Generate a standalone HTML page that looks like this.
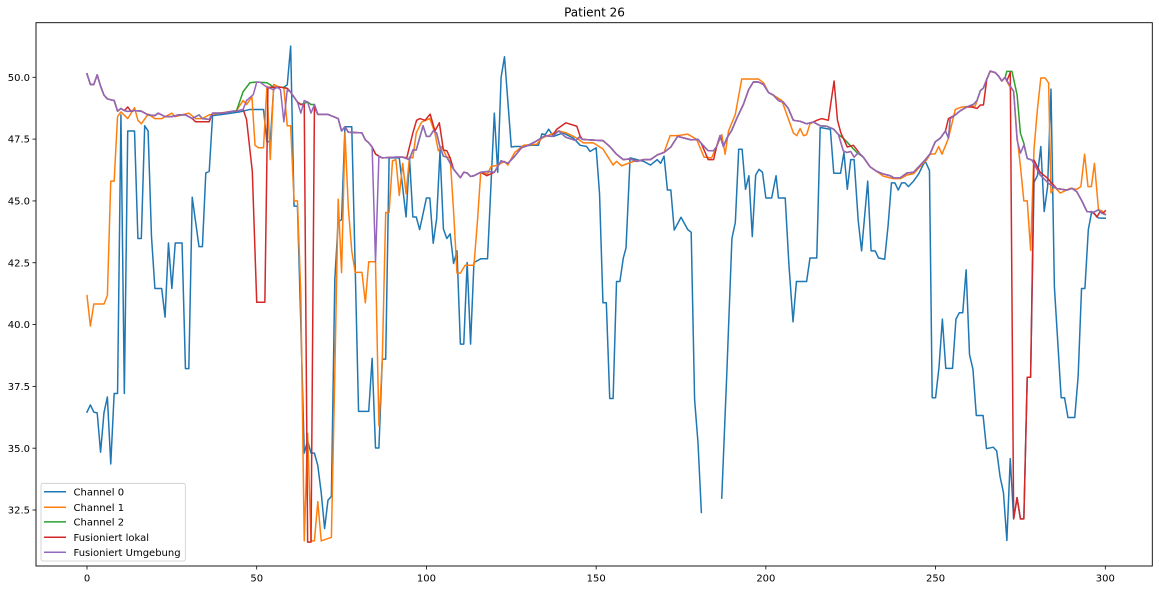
<!DOCTYPE html>
<html><head><meta charset="utf-8"><style>
html,body{margin:0;padding:0;background:#fff;}
svg{display:block;font-family:"DejaVu Sans","Liberation Sans",sans-serif;}
</style></head><body>
<svg id="chart" width="1159" height="590" viewBox="0 0 1159 590" xmlns="http://www.w3.org/2000/svg">
<defs><clipPath id="plotclip"><rect x="36" y="22.7" width="1116.3" height="543.3"/></clipPath></defs>
<rect x="0" y="0" width="1159" height="590" fill="#fff"/>
<text x="594.5" y="16.5" font-size="12" text-anchor="middle" fill="#000">Patient 26</text>
<g id="xaxis"></g>
<g id="yaxis"></g>
<g id="series" clip-path="url(#plotclip)"></g>
<rect x="36" y="22.7" width="1116.3" height="543.3" fill="none" stroke="#000" stroke-width="0.9"/>
<g id="legend"></g>
</svg>
<script>
const xTicks = [0, 50, 100, 150, 200, 250, 300];
const yTicks = [32.5, 35.0, 37.5, 40.0, 42.5, 45.0, 47.5, 50.0];
const seriesNames = ["Channel 0", "Channel 1", "Channel 2", "Fusioniert lokal", "Fusioniert Umgebung"];
const seriesColors = ["#1f77b4", "#ff7f0e", "#2ca02c", "#d62728", "#9467bd"];

const channel0 = [[0,36.46],[1,36.75],[2,36.46],[3,36.43],[4,34.84],[5,36.43],[6,37.07],[7,34.36],[8,37.21],[9,37.21],[10,48.48],[11,37.21],[12,47.83],[14,47.83],[15,43.48],[16,43.48],[17,48.04],[18,47.83],[19,43.56],[20,41.46],[22,41.46],[23,40.3],[24,43.3],[25,41.46],[26,43.3],[28,43.3],[29,38.22],[30,38.22],[31,45.15],[33,43.15],[34,43.15],[35,46.13],[36,46.19],[37,48.45],[40,48.5],[45,48.6],[48,48.7],[52,48.7],[53,47.4],[54,47.4],[55,49.6],[58,49.6],[59,49.7],[60,51.26],[61,44.79],[62,44.79],[63,40.0],[64,34.8],[65,35.3],[66,34.8],[67,34.8],[68,34.29],[69,33.2],[70,31.75],[71,32.9],[72,33.05],[73,41.8],[74,44.16],[75,44.24],[76,48.0],[78,48.0],[79,42.4],[80,36.49],[83,36.49],[84,38.63],[85,35.01],[86,35.01],[87,38.6],[88,38.6],[89,46.74],[92,46.74],[94,44.35],[95,46.77],[96,44.35],[97,44.35],[98,43.84],[100,45.12],[101,45.12],[102,43.29],[103,44.28],[104,47.03],[105,43.87],[106,43.48],[107,43.67],[108,42.47],[109,42.98],[110,39.21],[111,39.21],[112,42.51],[113,39.21],[114,42.51],[116,42.66],[118,42.66],[120,48.55],[121,46.16],[122,50.0],[123,50.83],[125,47.18],[126,47.2],[128.6,47.2],[130.5,47.25],[133,47.25],[134,47.71],[135,47.68],[136,47.9],[137.4,47.61],[140.3,47.75],[143.3,47.54],[145.3,47.25],[147.2,47.2],[148.2,47.0],[150,47.15],[151,45.29],[152,40.88],[153,40.88],[154,37.01],[155,37.01],[156,41.74],[157,41.74],[158,42.69],[158.8,43.1],[160,46.74],[162,46.67],[164,46.6],[166,46.45],[168,46.67],[169,46.52],[170,46.81],[171,45.44],[172,45.44],[173,43.82],[175,44.34],[177,43.84],[178,43.73],[179,36.97],[180,35.23],[181,32.4],[184,null],[187,32.98],[188.5,38.05],[190,43.48],[191,44.13],[192,47.09],[193,47.09],[194,45.47],[195,46.02],[196,43.56],[197,46.05],[198,46.28],[199,46.16],[200,45.12],[201.7,45.12],[203,46.02],[203.7,45.12],[205.7,45.12],[206.8,42.4],[208,40.11],[209,41.74],[212,41.74],[213,42.69],[215,42.69],[216,47.97],[219,47.9],[220,46.12],[222,46.12],[223,46.96],[224,45.47],[225,46.67],[226,46.67],[227.2,44.21],[228.2,42.98],[230,45.8],[231,42.98],[232.2,42.98],[233.2,42.69],[235,42.64],[236,43.99],[237,45.73],[238,45.73],[239,45.44],[240,45.73],[241,45.73],[242,45.58],[243.5,45.8],[245,46.09],[246.3,46.45],[247,46.6],[248.2,46.23],[249,37.04],[250,37.04],[251,38.27],[252,40.22],[253,38.23],[255,38.23],[256,40.22],[257,40.48],[258,40.48],[259,42.21],[260,38.78],[261,38.2],[262,36.32],[264,36.32],[265,34.98],[267,35.04],[268,34.89],[269,33.85],[270,33.2],[271,31.27],[272,34.58],[273,32.14],[274,33.0],[275,32.14],[276,32.14],[277,37.87],[278,37.87],[279,45.76],[280,46.02],[281,47.2],[282,44.57],[283,45.58],[284,49.52],[285,41.53],[287,37.04],[288,37.04],[289,36.24],[291,36.24],[292,37.91],[293,41.46],[294,41.46],[295,43.84],[296,44.57],[297,44.45],[298,44.31],[300,44.3]];

const channel1 = [[0,41.17],[1,39.94],[2,40.83],[5,40.83],[6,41.17],[7,45.8],[8,45.8],[9,48.41],[10,48.6],[12,48.33],[14,48.77],[15,48.26],[16,48.12],[18,48.51],[20,48.33],[22,48.33],[25,48.55],[26,48.41],[30,48.55],[32,48.33],[34,48.33],[36,48.48],[39,48.55],[44,48.65],[46,49.06],[47,48.9],[48.6,49.2],[49.5,47.25],[50.5,47.15],[52,47.15],[53,49.64],[54,46.67],[55,49.71],[56,49.64],[58,49.57],[59,48.04],[60,48.04],[61,45.0],[62,45.0],[63,41.2],[64,31.25],[65,35.6],[66,31.25],[67,31.25],[68,32.84],[69,31.25],[70,31.3],[72,31.39],[73,38.0],[74,45.07],[75,42.1],[76,47.75],[77,44.7],[78,42.98],[79,42.11],[81,42.11],[82,40.88],[83,42.54],[85,42.54],[86,35.91],[87,38.6],[88,44.53],[89,44.53],[90,46.62],[91,46.67],[92,45.22],[93,46.52],[94,45.29],[95,46.77],[96,46.74],[97,47.75],[98.6,48.19],[101,48.33],[102.5,47.75],[103.5,47.03],[104.5,47.2],[106,46.77],[107,46.74],[108,44.57],[109,42.08],[110,42.08],[111.4,42.4],[114,42.4],[115,44.13],[116,46.16],[118,46.09],[119,46.38],[121,46.45],[123,46.6],[124,46.45],[126,46.96],[128.6,47.25],[132.5,47.29],[134,47.54],[136.4,47.68],[139,47.83],[141.3,47.75],[144.3,47.54],[146.2,47.35],[149.2,47.35],[152,47.1],[155,46.45],[156,46.6],[157.5,46.42],[161,46.6],[164,46.67],[166,46.67],[168,46.86],[170,46.96],[171.8,47.64],[174,47.64],[177,47.7],[179.6,47.49],[181.8,46.77],[184,46.74],[185.5,47.2],[187,47.68],[188,46.89],[189,47.83],[191,48.5],[192.9,49.93],[197.8,49.93],[199.3,49.78],[200.8,49.38],[202.2,49.28],[204.7,49.06],[206.2,48.48],[208.1,47.75],[209.1,47.64],[210.1,47.93],[211.1,47.64],[212,47.68],[213,48.12],[214,48.19],[216,48.04],[218,48.02],[220,47.9],[221.4,47.68],[222.8,47.03],[223.8,46.96],[225,47.0],[226,46.77],[227.3,46.96],[228.7,46.77],[230.7,46.38],[232.7,46.19],[234.6,46.0],[237.6,45.9],[239.6,45.9],[241.6,46.05],[243.5,46.1],[245.5,46.4],[247.4,46.67],[248.4,46.89],[249.9,46.91],[250.9,47.2],[251.9,46.89],[253.8,47.54],[255.8,48.7],[257.8,48.8],[261.7,48.84],[263.2,49.46],[264.1,49.57],[265.1,49.93],[266.1,50.25],[267.6,50.19],[268.6,50.04],[269.5,49.85],[270.5,50.0],[271.5,49.7],[273,49.43],[274,47.6],[275,46.4],[276,45.0],[277,45.0],[278,43.0],[279,47.1],[280,48.7],[281,49.97],[282.3,49.97],[283.3,49.77],[284,45.32],[285,45.58],[286.7,45.32],[289.7,45.51],[291.6,45.47],[292.8,45.58],[293.9,46.89],[294.9,45.58],[295.9,45.58],[296.8,46.52],[298,44.64],[299,44.6],[300,44.45]];

const channel2 = [[0,50.14],[1,49.71],[2,49.71],[3,50.1],[4,49.64],[5,49.28],[6,49.13],[7,49.09],[8,49.06],[9,48.63],[10,48.74],[11,48.65],[12,48.62],[14,48.65],[16,48.63],[18,48.48],[20,48.45],[21,48.55],[23,48.41],[25,48.41],[27,48.48],[29,48.48],[31,48.33],[33,48.48],[34,48.33],[36,48.3],[37,48.55],[40,48.55],[43,48.63],[44,48.63],[46,49.42],[48,49.78],[50,49.81],[53,49.78],[54,49.7],[55,49.6],[58,49.6],[59,49.55],[60,49.4],[61,49.2],[62,49.0],[63,48.9],[65,49.0],[66,48.9],[67,48.9],[68,48.5],[71,48.5],[74,48.33],[75,47.83],[76,48.0],[77,47.78],[81,47.75],[82,47.47],[83,47.35],[84,47.18],[85,46.9],[86,46.81],[87,46.74],[91,46.77],[93,46.77],[95,46.67],[96,47.06],[97,47.06],[99,48.04],[100,47.61],[101,47.61],[102,47.83],[103,47.75],[104,47.18],[105,46.81],[106,46.77],[108,46.28],[110,45.94],[111,46.16],[112,46.13],[113,45.99],[114,46.02],[116,46.16],[118,46.19],[120,46.16],[122,46.62],[124,46.52],[126,46.81],[128,47.15],[130,47.25],[132,47.39],[135,47.64],[137,47.61],[139,47.83],[141,47.58],[144,47.44],[145,47.58],[146,47.49],[148,47.47],[152,47.44],[154,47.2],[156,46.89],[158,46.67],[160,46.7],[162,46.6],[164,46.67],[166,46.67],[168,46.86],[170,46.96],[172,47.18],[174,47.61],[176,47.54],[178,47.47],[180,47.49],[181,47.32],[183,47.03],[184.6,47.03],[185.5,47.2],[186.5,47.64],[187.5,47.2],[188.5,47.54],[190,47.87],[191.4,48.33],[193.4,48.91],[194.9,49.49],[196.3,49.81],[197.8,49.81],[199.3,49.71],[200.8,49.38],[202.2,49.28],[203.7,49.06],[205.2,48.99],[206.6,48.74],[208.1,48.26],[210.1,48.22],[212,48.12],[214,48.19],[216,48.04],[218,48.02],[220,47.9],[221.4,47.68],[222.8,47.54],[224.8,47.25],[226.8,46.96],[228.7,46.77],[230.7,46.38],[232.7,46.19],[234.6,46.09],[236.6,46.02],[237.6,45.94],[239.6,45.94],[241.6,46.13],[243.5,46.16],[245.5,46.45],[247,46.67],[248.4,46.91],[249.9,47.39],[251.4,47.54],[252.9,47.83],[253.8,47.54],[254.3,48.33],[255.8,48.48],[257.3,48.65],[259.2,48.8],[261.2,48.91],[262.2,49.06],[263.2,49.46],[264.1,49.57],[265.1,49.93],[266.1,50.25],[267.6,50.19],[268.6,50.04],[269.5,49.85],[270.5,50.0],[271,50.24],[272.5,50.24],[274,49.3],[275,47.74],[276,47.33],[277,46.72],[278.4,46.65],[280.8,46.05],[283.3,45.71],[285.7,45.5],[288.7,45.44],[290.2,45.51],[291.6,45.37],[293.1,45.0],[294.6,44.57],[296.5,44.54],[298,44.64],[299,44.5],[300,44.45]];

const fusioniertLokal = [[0,50.14],[1,49.71],[2,49.71],[3,50.1],[4,49.64],[5,49.28],[6,49.13],[7,49.09],[8,49.06],[9,48.63],[10,48.74],[11,48.65],[12,48.8],[13,48.62],[14,48.65],[16,48.63],[18,48.48],[20,48.45],[21,48.55],[23,48.41],[25,48.41],[27,48.48],[29,48.48],[31,48.33],[32,48.2],[36,48.2],[37,48.55],[40,48.55],[43,48.63],[44,48.63],[46,48.7],[47,48.3],[48.7,46.2],[50,40.9],[52.4,40.9],[53.3,49.6],[55,49.6],[57,49.6],[59,49.55],[60,49.4],[61,49.2],[62,49.0],[63,48.9],[64,48.9],[65,31.2],[66,31.2],[67,48.8],[68,48.5],[71,48.5],[74,48.33],[75,47.83],[76,48.0],[77,47.78],[81,47.75],[82,47.47],[83,47.35],[84,47.18],[85,46.9],[86,46.81],[87,46.74],[91,46.77],[93,46.77],[94.2,46.74],[96,47.75],[97.1,48.26],[98.1,48.33],[99.6,48.26],[101.1,48.51],[102.5,47.83],[103.8,48.16],[105,47.06],[106,47.03],[107,46.74],[108,46.28],[110,45.94],[111,46.16],[112,46.13],[113,45.99],[114,46.02],[116,46.16],[117.8,46.02],[120,46.16],[122,46.62],[124,46.52],[126,46.81],[128,47.15],[130,47.25],[132,47.39],[135,47.64],[137,47.61],[138.4,47.9],[141.1,48.16],[144.3,48.02],[145.3,47.61],[146,47.49],[148,47.47],[152,47.44],[154,47.2],[156,46.89],[158,46.67],[160,46.7],[162,46.6],[164,46.67],[166,46.67],[168,46.86],[170,46.96],[172,47.18],[174,47.61],[176,47.54],[178,47.47],[180,47.49],[181,47.32],[183,46.67],[184.6,46.67],[185.5,47.2],[186.5,47.64],[187.5,47.2],[188.5,47.54],[190,47.87],[191.4,48.33],[193.4,48.91],[194.9,49.49],[196.3,49.81],[197.8,49.81],[199.3,49.71],[200.8,49.38],[202.2,49.28],[203.7,49.06],[205.2,48.99],[206.6,48.74],[208.1,48.26],[210.1,48.22],[212,48.12],[214,48.19],[215,48.26],[216.5,48.33],[218.4,48.26],[220.1,49.85],[221.1,48.26],[222.1,47.75],[224,47.18],[225.8,47.25],[227.8,46.89],[228.7,46.77],[230.7,46.38],[232.7,46.19],[234.6,46.09],[236.6,46.02],[237.6,45.94],[239.6,45.94],[241.6,46.13],[243.5,46.16],[245.5,46.45],[247,46.67],[248.4,46.91],[249.9,47.39],[251.4,47.54],[252.9,47.83],[253.8,48.33],[254.8,48.41],[255.8,48.48],[257.3,48.65],[259.2,48.8],[260.7,48.8],[262.2,48.74],[263.2,48.88],[264.1,48.88],[265.1,49.93],[266.1,50.25],[267.6,50.19],[268.6,50.04],[269.5,49.85],[270.5,50.0],[271,49.85],[272,50.2],[273,32.14],[274,33.0],[275,32.14],[276,32.14],[277,37.87],[278,37.87],[279,46.65],[280.8,46.16],[282.8,45.94],[285.7,45.5],[288.7,45.44],[290.2,45.51],[291.6,45.37],[293.1,45.0],[294.6,44.57],[296.5,44.54],[297.5,44.35],[298.5,44.57],[299.3,44.5],[300,44.6]];

const fusioniertUmgebung = [[0,50.14],[1,49.71],[2,49.71],[3,50.1],[4,49.64],[5,49.28],[6,49.13],[7,49.09],[8,49.06],[9,48.63],[10,48.74],[11,48.65],[12,48.62],[14,48.65],[16,48.63],[18,48.48],[20,48.45],[21,48.55],[23,48.41],[25,48.41],[27,48.48],[29,48.48],[31,48.33],[33,48.48],[34,48.33],[36,48.3],[37,48.55],[40,48.55],[43,48.63],[44,48.63],[46,48.7],[47,49.06],[49,49.3],[50,49.8],[51,49.8],[53,49.6],[55,49.5],[56,49.6],[57,49.5],[58,48.2],[59,49.5],[60,49.4],[61,49.2],[62,49.0],[63,48.55],[64,49.06],[65,49.0],[66,48.55],[67,48.9],[68,48.5],[71,48.5],[74,48.33],[75,47.83],[76,48.0],[77,47.78],[81,47.75],[82,47.47],[83,47.35],[84,47.18],[85,42.54],[86,46.81],[87,46.74],[91,46.77],[93,46.77],[95,46.67],[96,47.06],[97,47.06],[99,48.04],[100,47.61],[101,47.61],[102,47.83],[103,47.75],[104,47.18],[105,46.81],[106,46.77],[108,46.28],[110,45.94],[111,46.16],[112,46.13],[113,45.99],[114,46.02],[116,46.16],[118,46.19],[120,46.16],[122,46.62],[124,46.52],[126,46.81],[128,47.15],[130,47.25],[132,47.39],[135,47.64],[137,47.61],[139,47.83],[141,47.58],[144,47.44],[145,47.58],[146,47.49],[148,47.47],[152,47.44],[154,47.2],[156,46.89],[158,46.67],[160,46.7],[162,46.6],[164,46.67],[166,46.67],[168,46.86],[170,46.96],[172,47.18],[174,47.61],[176,47.54],[178,47.47],[180,47.49],[181,47.32],[183,47.03],[184.6,47.03],[185.5,47.2],[186.5,47.64],[187.5,47.2],[188.5,47.54],[190,47.87],[191.4,48.33],[193.4,48.91],[194.9,49.49],[196.3,49.81],[197.8,49.81],[199.3,49.71],[200.8,49.38],[202.2,49.28],[203.7,49.06],[205.2,48.99],[206.6,48.74],[208.1,48.26],[210.1,48.22],[212,48.12],[214,48.19],[216,48.04],[218,48.02],[220,47.9],[221.4,47.68],[222.8,47.03],[223.8,46.96],[225,47.0],[226,46.77],[227.3,46.96],[228.7,46.77],[230.7,46.38],[232.7,46.19],[234.6,46.09],[236.6,46.02],[237.6,45.94],[239.6,45.94],[241.6,46.13],[243.5,46.16],[245.5,46.45],[247,46.67],[248.4,46.91],[249.9,47.39],[251.4,47.54],[252.9,47.83],[253.8,47.54],[254.3,48.33],[255.8,48.48],[257.3,48.65],[259.2,48.8],[261.2,48.91],[262.2,49.06],[263.2,49.46],[264.1,49.57],[265.1,49.93],[266.1,50.25],[267.6,50.19],[268.6,50.04],[269.5,49.85],[270.5,50.0],[271.5,49.76],[273,49.43],[274,47.47],[275,46.93],[276,47.26],[277,46.72],[278.4,46.65],[280.8,46.05],[283.3,45.71],[285.7,45.5],[288.7,45.44],[290.2,45.51],[291.6,45.37],[293.1,45.0],[294.6,44.57],[296.5,44.54],[298,44.64],[299,44.5],[300,44.45]];

const NS = "http://www.w3.org/2000/svg";
function xScale(v) { return 87 + v * (1105.3 - 87) / 300; }
function yScale(v) { return 77.3 + (50 - v) * (510 - 77.3) / 17.5; }

const xAxisG = document.getElementById('xaxis');
xTicks.forEach(function (t) {
  const px = xScale(t);
  const ln = document.createElementNS(NS, 'line');
  
  
  ln.setAttribute('x1', px); ln.setAttribute('x2', px);
  ln.setAttribute('y1', 566); ln.setAttribute('y2', 569.5);
  ln.setAttribute('stroke', '#000'); ln.setAttribute('stroke-width', '0.8');
  xAxisG.appendChild(ln);
  const tx = document.createElementNS(NS, 'text');
  
  
  tx.setAttribute('x', px); tx.setAttribute('y', 581.5);
  tx.setAttribute('font-size', '10'); tx.setAttribute('text-anchor', 'middle');
  tx.textContent = String(t);
  xAxisG.appendChild(tx);
});

const yAxisG = document.getElementById('yaxis');
yTicks.forEach(function (t) {
  const py = yScale(t);
  const ln = document.createElementNS(NS, 'line');
  
  
  ln.setAttribute('x1', 32.5); ln.setAttribute('x2', 36);
  ln.setAttribute('y1', py); ln.setAttribute('y2', py);
  ln.setAttribute('stroke', '#000'); ln.setAttribute('stroke-width', '0.8');
  yAxisG.appendChild(ln);
  const tx = document.createElementNS(NS, 'text');
  
  
  tx.setAttribute('x', 30); tx.setAttribute('y', py + 3.6);
  tx.setAttribute('font-size', '10'); tx.setAttribute('text-anchor', 'end');
  tx.textContent = t.toFixed(1);
  yAxisG.appendChild(tx);
});

const allSeries = [channel0, channel1, channel2, fusioniertLokal, fusioniertUmgebung];
const seriesKeys = ['channel-0-line', 'channel-1-line', 'channel-2-line', 'fusioniert-lokal-line', 'fusioniert-umgebung-line'];
const seriesG = document.getElementById('series');
allSeries.forEach(function (data, i) {
  let segs = [[]];
  data.forEach(function (p) {
    if (p[1] === null) { segs.push([]); return; }
    segs[segs.length - 1].push(xScale(p[0]).toFixed(2) + ',' + yScale(p[1]).toFixed(2));
  });
  const g = document.createElementNS(NS, 'g');
  
  
  segs.forEach(function (s) {
    if (s.length < 2) return;
    const pl = document.createElementNS(NS, 'polyline');
    
    
    pl.setAttribute('points', s.join(' '));
    pl.setAttribute('fill', 'none');
    pl.setAttribute('stroke', seriesColors[i]);
    pl.setAttribute('stroke-width', '1.5');
    pl.setAttribute('stroke-linejoin', 'round');
    pl.setAttribute('stroke-linecap', 'square');
    g.appendChild(pl);
  });
  seriesG.appendChild(g);
});

const legendG = document.getElementById('legend');
const box = document.createElementNS(NS, 'rect');


box.setAttribute('x', 41); box.setAttribute('y', 483.3);
box.setAttribute('width', 144.3); box.setAttribute('height', 77.7);
box.setAttribute('rx', 2); box.setAttribute('fill', '#fff'); box.setAttribute('fill-opacity', '0.8');
box.setAttribute('stroke', '#ccc'); box.setAttribute('stroke-width', '0.8');
legendG.appendChild(box);
const legendRowY = [491.7, 507.2, 521.9, 537.2, 552.2];
seriesNames.forEach(function (name, i) {
  const ly = legendRowY[i];
  const ln = document.createElementNS(NS, 'line');
  
  
  ln.setAttribute('x1', 44); ln.setAttribute('x2', 66);
  ln.setAttribute('y1', ly); ln.setAttribute('y2', ly);
  ln.setAttribute('stroke', seriesColors[i]); ln.setAttribute('stroke-width', '1.5');
  legendG.appendChild(ln);
  const tx = document.createElementNS(NS, 'text');
  
  
  tx.setAttribute('x', 73.5); tx.setAttribute('y', ly + 3.6);
  tx.setAttribute('font-size', '10');
  tx.textContent = name;
  legendG.appendChild(tx);
});
</script>
</body></html>
